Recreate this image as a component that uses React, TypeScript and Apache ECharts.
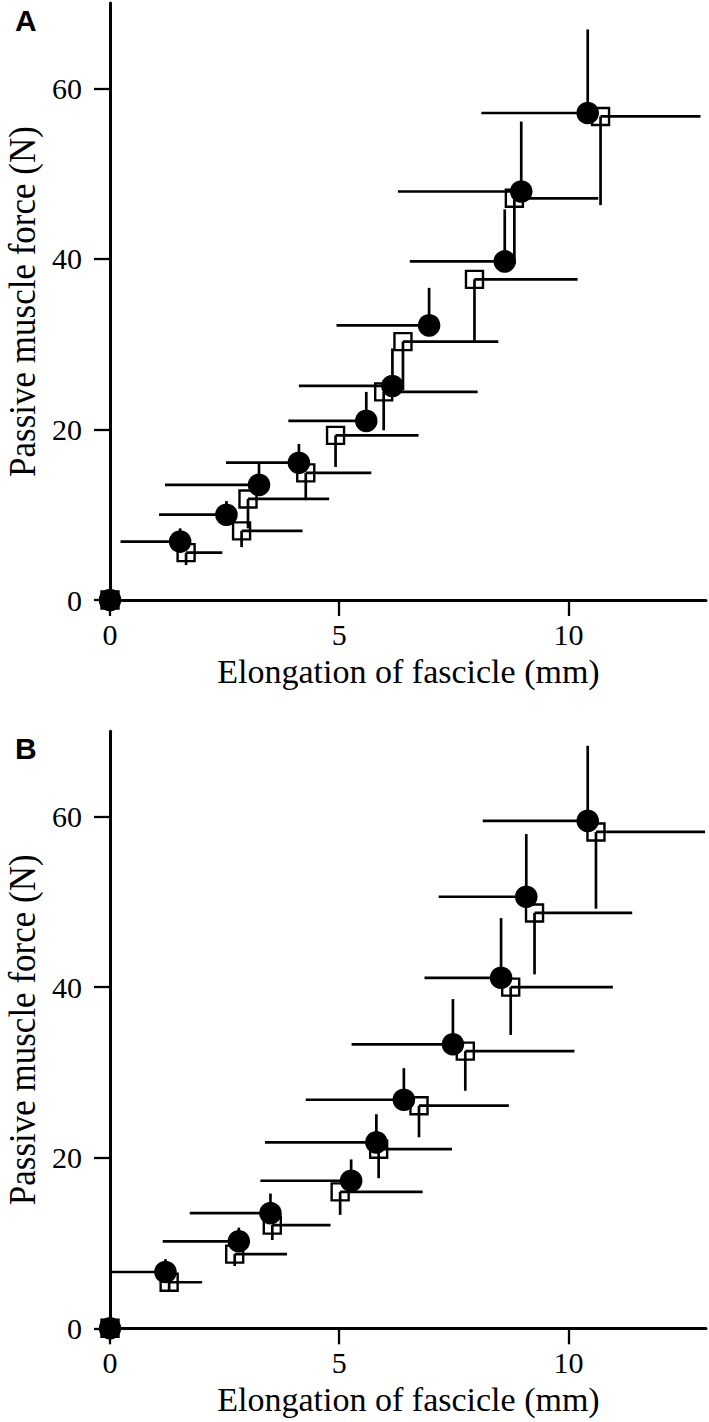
import React, { useEffect, useRef } from "react";
import * as echarts from "echarts";

// Panel A — filled circles (error bars: left & up), open squares (error bars: right & down)
const circlesA_x = [0, 1.53, 2.54, 3.25, 4.12, 5.59, 6.16, 6.96, 8.61, 8.97, 10.42];
const circlesA_y = [0, 6.85, 10.0, 13.5, 16.1, 21.0, 25.1, 32.2, 39.7, 47.9, 57.1];
const circlesA_xLo = [0, 0.23, 1.07, 1.2, 2.53, 3.89, 4.12, 4.94, 6.54, 6.28, 8.1];
const circlesA_yHi = [0, 8.4, 11.6, 16.0, 18.3, 24.4, 29.5, 36.6, 45.8, 56.1, 66.9];

const squaresA_x = [0, 1.66, 2.87, 3.01, 4.27, 4.92, 5.97, 6.39, 7.95, 8.82, 10.7];
const squaresA_y = [0, 5.55, 8.1, 11.85, 14.9, 19.3, 24.4, 30.3, 37.6, 47.1, 56.7];
const squaresA_xHi = [0, 2.45, 4.2, 4.78, 5.7, 6.73, 8.02, 8.47, 10.2, 10.65, 12.88];
const squaresA_yLo = [0, 4.1, 6.2, 8.4, 11.7, 15.6, 19.9, 24.6, 30.4, 39.4, 46.3];

// Panel B
const circlesB_x = [0, 1.21, 2.81, 3.5, 5.26, 5.81, 6.41, 7.48, 8.53, 9.08, 10.42];
const circlesB_y = [0, 6.6, 10.2, 13.5, 17.3, 21.8, 26.8, 33.3, 41.1, 50.6, 59.5];
const circlesB_xLo = [0, 0.0, 1.15, 1.74, 3.28, 3.38, 4.27, 5.27, 6.86, 7.17, 8.13];
const circlesB_yHi = [0, 8.1, 11.8, 15.8, 19.8, 25.1, 30.5, 38.6, 48.1, 57.95, 68.3];

const squaresB_x = [0, 1.29, 2.72, 3.54, 5.02, 5.86, 6.74, 7.75, 8.74, 9.26, 10.6];
const squaresB_y = [0, 5.4, 8.7, 12.1, 16.0, 21.0, 26.1, 32.5, 40.0, 48.7, 58.2];
const squaresB_xHi = [0, 2.01, 3.86, 4.81, 6.82, 7.46, 8.7, 10.13, 10.97, 11.39, 12.98];
const squaresB_yLo = [0, 4.5, 7.3, 10.35, 13.3, 17.6, 22.4, 27.85, 34.4, 41.5, 49.2];

const xTicks = [0, 5, 10];
const yTicks = [0, 20, 40, 60];
const xTitle = "Elongation of fascicle (mm)";
const yTitle = "Passive muscle force (N)";
const panelLabels = ["A", "B"];

const SERIF = "Liberation Serif";
const BAR_W = 2.7;

function mkX(i: number) {
  return {
    type: "value",
    gridIndex: i,
    min: 0,
    max: 13,
    interval: 5,
    axisLine: { show: true, onZero: false, lineStyle: { color: "#000", width: 3 } },
    axisTick: { show: true, length: 16, customValues: xTicks, lineStyle: { color: "#000", width: 2.3 } },
    axisLabel: { customValues: xTicks, color: "#000", fontSize: 30, fontFamily: SERIF, margin: 19 },
    splitLine: { show: false },
  };
}

function mkY(i: number) {
  return {
    type: "value",
    gridIndex: i,
    min: 0,
    max: 70,
    interval: 20,
    axisLine: { show: true, onZero: false, lineStyle: { color: "#000", width: 3 } },
    axisTick: { show: true, length: 16, customValues: yTicks, lineStyle: { color: "#000", width: 2.3 } },
    axisLabel: { customValues: yTicks, color: "#000", fontSize: 30, fontFamily: SERIF, margin: 28 },
    splitLine: { show: false },
  };
}

function circleSeries(i: number, xs: number[], ys: number[], xlo: number[], yhi: number[]) {
  return {
    type: "custom",
    xAxisIndex: i,
    yAxisIndex: i,
    clip: false,
    z: 3,
    encode: { x: 0, y: 1 },
    data: xs.map((x, k) => [x, ys[k], xlo[k], yhi[k]]),
    renderItem: (_p: any, api: any) => {
      const x = api.value(0), y = api.value(1), xl = api.value(2), yh = api.value(3);
      const p = api.coord([x, y]);
      const pl = api.coord([xl, y]);
      const ph = api.coord([x, yh]);
      return {
        type: "group",
        children: [
          { type: "line", shape: { x1: p[0], y1: p[1], x2: pl[0], y2: p[1] }, style: { stroke: "#000", lineWidth: BAR_W } },
          { type: "line", shape: { x1: p[0], y1: p[1], x2: p[0], y2: ph[1] }, style: { stroke: "#000", lineWidth: BAR_W } },
          { type: "circle", shape: { cx: p[0], cy: p[1], r: 11.3 }, style: { fill: "#000" } },
        ],
      };
    },
  };
}

function squareSeries(i: number, xs: number[], ys: number[], xhi: number[], ylo: number[]) {
  const h = 8.5;
  return {
    type: "custom",
    xAxisIndex: i,
    yAxisIndex: i,
    clip: false,
    z: 2,
    encode: { x: 0, y: 1 },
    data: xs.map((x, k) => [x, ys[k], xhi[k], ylo[k]]),
    renderItem: (_p: any, api: any) => {
      const x = api.value(0), y = api.value(1), xh = api.value(2), yl = api.value(3);
      const p = api.coord([x, y]);
      const pr = api.coord([xh, y]);
      const pd = api.coord([x, yl]);
      return {
        type: "group",
        children: [
          { type: "rect", shape: { x: p[0] - h, y: p[1] - h, width: 2 * h, height: 2 * h }, style: { fill: "#fff", stroke: "#000", lineWidth: 2.4 } },
          { type: "line", shape: { x1: p[0], y1: p[1], x2: pr[0], y2: p[1] }, style: { stroke: "#000", lineWidth: BAR_W } },
          { type: "line", shape: { x1: p[0], y1: p[1], x2: p[0], y2: pd[1] }, style: { stroke: "#000", lineWidth: BAR_W } },
        ],
      };
    },
  };
}

export default function App() {
  const ref = useRef<HTMLDivElement>(null);
  useEffect(() => {
    if (!ref.current) return;
    const chart = echarts.init(ref.current, null, { renderer: "svg" });
    const offsets = [0, 728.3];
    const graphics: any[] = [];
    offsets.forEach((off, i) => {
      graphics.push({
        type: "text",
        x: 408.5,
        y: 671 + off,
        style: { text: xTitle, fontSize: 34, fontFamily: SERIF, fill: "#000", align: "center", verticalAlign: "middle" },
      });
      graphics.push({
        type: "text",
        x: 22,
        y: 301.5 + off,
        rotation: Math.PI / 2,
        scaleY: 1.1,
        style: { text: yTitle, fontSize: 35, fontFamily: SERIF, fill: "#000", align: "center", verticalAlign: "middle" },
      });
      graphics.push({
        type: "text",
        x: 15,
        y: 20 + off,
        style: { text: panelLabels[i], fontSize: 30, fontWeight: "bold", fontFamily: "Liberation Sans", fill: "#000", align: "left", verticalAlign: "middle" },
      });
    });
    chart.setOption({
      animation: false,
      grid: [
        { left: 110, top: 3, width: 596, height: 597 },
        { left: 110, top: 731.3, width: 596, height: 597 },
      ],
      xAxis: [mkX(0), mkX(1)],
      yAxis: [mkY(0), mkY(1)],
      series: [
        squareSeries(0, squaresA_x, squaresA_y, squaresA_xHi, squaresA_yLo),
        circleSeries(0, circlesA_x, circlesA_y, circlesA_xLo, circlesA_yHi),
        squareSeries(1, squaresB_x, squaresB_y, squaresB_xHi, squaresB_yLo),
        circleSeries(1, circlesB_x, circlesB_y, circlesB_xLo, circlesB_yHi),
      ],
      graphic: graphics,
    });
    return () => chart.dispose();
  }, []);
  return <div ref={ref} style={{ position: "absolute", left: 0, top: 0, width: 709, height: 1422, background: "#fff" }} />;
}
